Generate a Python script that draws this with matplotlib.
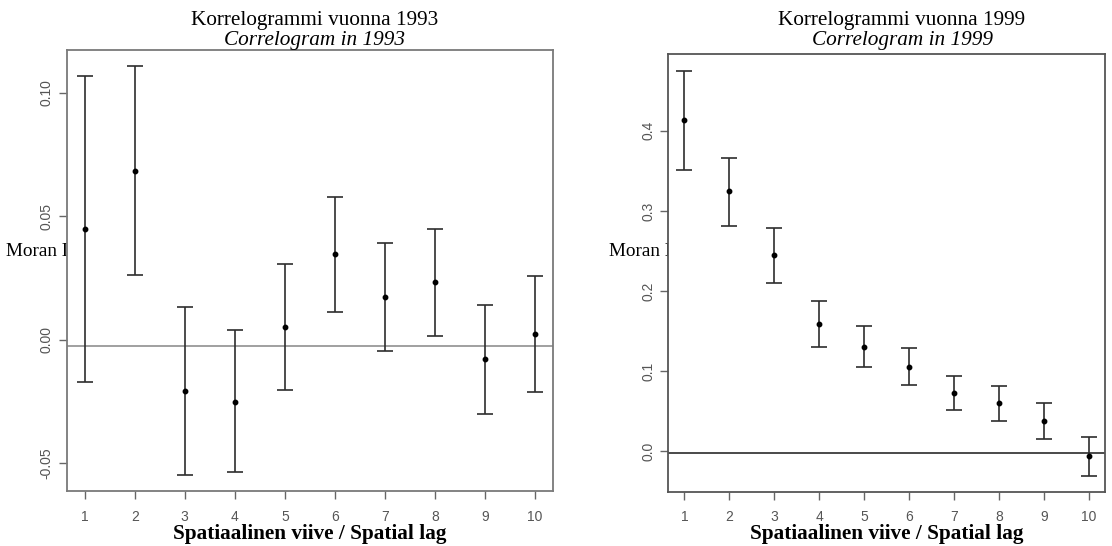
import matplotlib
matplotlib.use("Agg")
import matplotlib.pyplot as plt
import numpy as np

# ---- data ----
lags = [1, 2, 3, 4, 5, 6, 7, 8, 9, 10]

moran_1993 = [0.0450, 0.0684, -0.0210, -0.0252, 0.0050, 0.0346, 0.0171, 0.0233, -0.0080, 0.0023]
low_1993 = [-0.0171, 0.0263, -0.0547, -0.0538, -0.0205, 0.0113, -0.0045, 0.0016, -0.0302, -0.0213]
high_1993 = [0.1069, 0.1107, 0.0133, 0.0037, 0.0305, 0.0576, 0.0390, 0.0448, 0.0141, 0.0257]
expected_1993 = -0.0024

moran_1999 = [0.4132, 0.3246, 0.2447, 0.1594, 0.1298, 0.1054, 0.0733, 0.0599, 0.0380, -0.0062]
low_1999 = [0.3517, 0.2818, 0.2106, 0.1298, 0.1054, 0.0829, 0.0521, 0.0383, 0.0159, -0.0300]
high_1999 = [0.4753, 0.3658, 0.2784, 0.1873, 0.1560, 0.1295, 0.0945, 0.0820, 0.0599, 0.0175]
expected_1999 = -0.0021

yticks_1993 = [-0.05, 0.00, 0.05, 0.10]
yticklabels_1993 = ["-0.05", "0.00", "0.05", "0.10"]
yticks_1999 = [0.0, 0.1, 0.2, 0.3, 0.4]
yticklabels_1999 = ["0.0", "0.1", "0.2", "0.3", "0.4"]

titles_fi = ["Korrelogrammi vuonna 1993", "Korrelogrammi vuonna 1999"]
titles_en = ["Correlogram in 1993", "Correlogram in 1999"]
xlabel = "Spatiaalinen viive / Spatial lag"
ylabel = "Moran I"

# ---- figure ----
W, H = 1112, 546
fig = plt.figure(figsize=(W / 100, H / 100), dpi=100)
fig.patch.set_facecolor("white")

SERIF = "Liberation Serif"
SANS = "Liberation Sans"


def px_box(x0, y0, x1, y1):
    return [x0 / W, 1 - y1 / H, (x1 - x0) / W, (y1 - y0) / H]


panels = [
    dict(box=px_box(66.7, 50, 553, 491), moran=moran_1993, lo=low_1993, hi=high_1993,
         exp=expected_1993, yt=yticks_1993, ytl=yticklabels_1993,
         spine="#7a7a7a", hline="#a0a0a0", title_x=314.5, ylab_x=6.5,
         tfi=titles_fi[0], ten=titles_en[0]),
    dict(box=px_box(668.3, 54.3, 1105.3, 491.7), moran=moran_1999, lo=low_1999, hi=high_1999,
         exp=expected_1999, yt=yticks_1999, ytl=yticklabels_1999,
         spine="#555555", hline="#4a4a4a", title_x=902, ylab_x=609,
         tfi=titles_fi[1], ten=titles_en[1]),
]

for p in panels:
    ax = fig.add_axes(p["box"])
    ax.set_facecolor("white")
    m = np.array(p["moran"])
    lo = np.array(p["lo"])
    hi = np.array(p["hi"])
    yerr = np.vstack([m - lo, hi - m])
    ax.errorbar(lags, m, yerr=yerr, fmt="o", color="black", ms=3.2,
                ecolor="#2e2e2e", elinewidth=1.2, capsize=6, capthick=1.2, zorder=3)
    ax.axhline(p["exp"], color=p["hline"], lw=1.4, zorder=2)

    rng = hi.max() - lo.min()
    ax.set_ylim(lo.min() - 0.04 * rng, hi.max() + 0.04 * rng)
    ax.set_xlim(1 - 0.04 * 9, 10 + 0.04 * 9)

    ax.set_xticks(lags)
    ax.set_xticklabels([str(v) for v in lags], family=SANS, fontsize=10, color="#555555")
    ax.set_yticks(p["yt"])
    ax.set_yticklabels(p["ytl"], family=SANS, fontsize=10, color="#555555",
                       rotation=90, va="center")
    ax.tick_params(axis="x", length=5.5, width=1.0, color="#666666", pad=8)
    ax.tick_params(axis="y", length=5.5, width=1.0, color="#666666", pad=4)
    for s in ax.spines.values():
        s.set_color(p["spine"])
        s.set_linewidth(1.3)

    cx = p["box"][0] + p["box"][2] / 2
    fig.text(cx, 1 - 539 / H, xlabel, ha="center", va="baseline",
             family=SERIF, fontweight="bold", fontsize=15.3)
    fig.text(p["title_x"] / W, 1 - 24.5 / H, p["tfi"], ha="center", va="baseline",
             family=SERIF, fontsize=15.3)
    fig.text(p["title_x"] / W, 1 - 45.5 / H, p["ten"], ha="center", va="baseline",
             family=SERIF, fontstyle="italic", fontsize=15.3)
    fig.text(p["ylab_x"] / W, 1 - 256 / H, ylabel, ha="left", va="baseline",
             family=SERIF, fontsize=13.8, zorder=-1)

fig.savefig("out.png", dpi=100, facecolor="white")
